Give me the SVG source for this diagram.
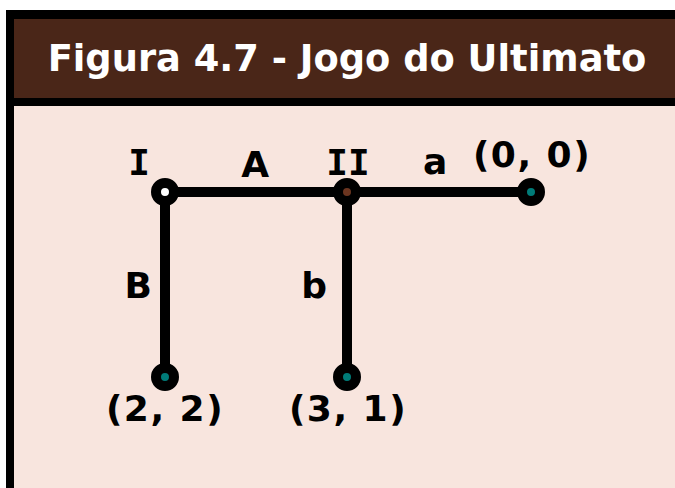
<svg xmlns="http://www.w3.org/2000/svg" width="675" height="488" viewBox="0 0 675 488">
<style>
.lbl{font-family:"DejaVu Sans",Verdana,sans-serif;font-weight:bold;font-size:36px;letter-spacing:1.5px;fill:#000;text-anchor:middle}
.rom{font-family:"DejaVu Sans Mono",monospace;font-weight:bold;font-size:36px;fill:#000;text-anchor:middle}
.edge{stroke:#000;stroke-width:10;fill:none}
.node{stroke:#000;stroke-width:10}
</style>
<rect x="0" y="0" width="675" height="488" fill="#ffffff"/>
<rect x="6" y="10" width="680" height="490" fill="#000"/>
<rect x="14" y="106" width="670" height="390" fill="#f8e5de"/>
<rect x="14" y="19" width="670" height="79" fill="#4a2618"/>
<text x="347" y="71" font-family="DejaVu Sans,Verdana,sans-serif" font-weight="bold" font-size="36.8" fill="#fff" text-anchor="middle">Figura 4.7 - Jogo do Ultimato</text>
<g id="connectors">
<line class="edge" x1="165" y1="192" x2="531" y2="192"/>
<line class="edge" x1="165" y1="192" x2="165" y2="377"/>
<line class="edge" x1="347" y1="192" x2="347" y2="377"/>
<text class="lbl" x="256" y="177">A</text>
<text class="lbl" x="436" y="174">a</text>
<text class="lbl" x="139" y="298">B</text>
<text class="lbl" x="315" y="298">b</text>
</g>
<g id="node-I"><circle class="node" cx="165" cy="192" r="9" fill="#fff"/><text class="rom" x="139" y="175">I</text></g>
<g id="node-II"><circle class="node" cx="347" cy="192" r="9" fill="#6b3520"/><text class="rom" x="348" y="175">II</text></g>
<g id="leaf-00"><circle class="node" cx="531" cy="192" r="9" fill="#007b78"/><text class="lbl" x="532" y="167">(0, 0)</text></g>
<g id="leaf-22"><circle class="node" cx="165" cy="377" r="9" fill="#007b78"/><text class="lbl" x="165" y="421">(2, 2)</text></g>
<g id="leaf-31"><circle class="node" cx="347" cy="377" r="9" fill="#007b78"/><text class="lbl" x="348" y="421">(3, 1)</text></g>
</svg>
